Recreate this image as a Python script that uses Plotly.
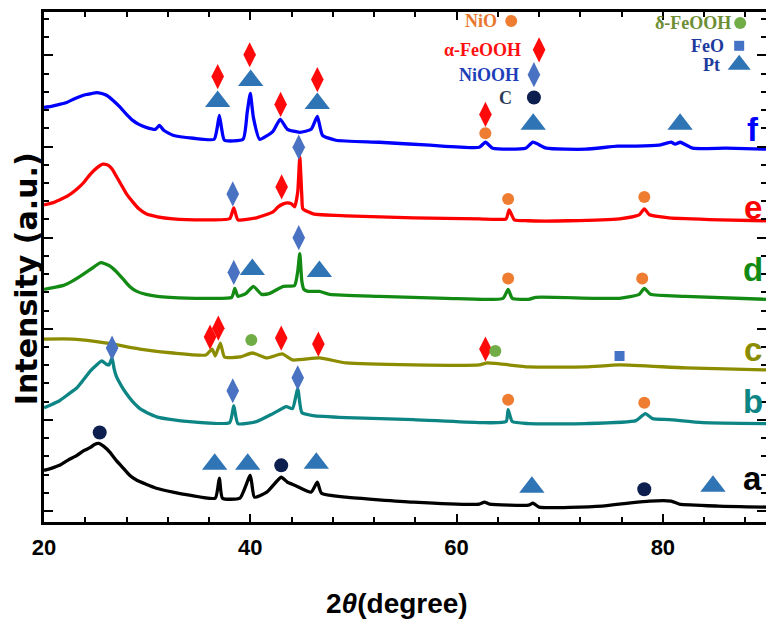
import plotly.graph_objects as go

# ---------------- data (2theta in degree, intensity in arbitrary units) -------------
f_x = [20.0, 20.7, 21.5, 22.2, 22.8, 23.5, 24.1, 24.6, 25.1, 25.6, 26.1, 26.7, 27.4, 28.0, 28.6,
       29.2, 29.9, 30.8, 31.2, 31.6, 32.5, 34.5, 36.5, 36.8, 37.0, 37.2, 37.5, 39.3, 39.7, 40.0,
       40.3, 40.9, 42.2, 42.9, 43.6, 44.8, 45.9, 46.5, 47.0, 48.3, 52.5, 57.4, 62.2, 62.8, 63.5,
       66.7, 67.4, 68.7, 72.5, 75.6, 77.4, 79.6, 80.8, 81.2, 81.7, 82.9, 86.1, 90.0]
f_y = [495, 496, 498, 500, 503, 506, 508, 509, 510, 509, 507, 502, 495, 488, 482,
       478, 475, 473, 477, 472, 467, 464, 463, 475, 487, 475, 462, 463, 490, 509,
       485, 463, 471, 483, 473, 470, 473, 486, 467, 462, 460, 457, 455, 460, 454,
       454, 460, 454, 453, 456, 456, 457, 460, 458, 460, 454, 454, 453]

e_x = [20.0, 20.8, 21.5, 22.3, 23.2, 23.9, 24.5, 25.1, 25.7, 26.2, 26.6, 27.0, 27.5, 28.0, 28.6,
       29.2, 29.9, 31.0, 32.5, 35.7, 38.0, 38.4, 38.8, 40.6, 42.2, 42.7, 43.2, 43.6, 44.0, 44.3,
       44.6, 44.8, 45.0, 45.1, 46.1, 49.3, 55.8, 62.2, 64.8, 65.1, 65.6, 66.9, 70.9, 75.8, 77.7,
       78.2, 78.7, 80.6, 85.5, 90.0]
e_y = [397, 399, 402, 406, 413, 420, 428, 434, 438, 437, 433, 426, 417, 408, 400,
       393, 388, 385, 383, 382, 383, 394, 382, 384, 390, 395, 398, 399, 398, 395,
       410, 445, 405, 393, 388, 386, 384, 383, 383, 392, 382, 381, 381, 383, 387,
       393, 387, 384, 382, 381]

d_x = [20.0, 21.0, 21.9, 22.7, 23.5, 24.5, 25.5, 26.3, 27.0, 27.7, 28.3, 29.0, 29.9, 31.0, 32.2,
       35.4, 38.2, 38.5, 38.8, 39.6, 40.3, 41.1, 41.9, 43.2, 44.3, 44.6, 44.8, 45.0, 45.2, 45.6,
       46.7, 47.7, 52.5, 59.0, 64.5, 65.0, 65.4, 67.0, 67.7, 75.8, 77.7, 78.2, 78.8, 82.2, 90.0]
d_y = [312, 314, 316, 320, 325, 332, 339, 336, 330, 322, 315, 310, 307, 305, 304,
       303, 304, 313, 305, 308, 315, 307, 308, 315, 316, 330, 348, 320, 312, 310,
       310, 307, 305, 303, 303, 312, 303, 302, 304, 303, 307, 313, 307, 305, 302]

c_x = [20.0, 22.8, 26.1, 29.3, 32.5, 35.7, 36.3, 36.6, 37.1, 37.5, 39.0, 40.2, 41.6, 43.1, 44.1,
       46.7, 49.3, 55.8, 62.2, 63.0, 67.0, 72.5, 75.8, 82.2, 90.0]
c_y = [262, 262, 258, 252, 248, 246, 252, 245, 258, 244, 244, 248, 243, 247, 241,
       243, 238, 236, 236, 238, 234, 234, 236, 233, 231]

b_x = [20.0, 20.7, 21.5, 22.3, 23.2, 23.9, 24.5, 25.1, 25.6, 26.0, 26.3, 26.6, 26.8, 27.0, 27.5,
       28.0, 28.6, 29.3, 30.2, 31.2, 34.1, 38.0, 38.4, 38.8, 40.6, 42.2, 43.5, 44.1, 44.6, 45.0,
       46.1, 49.3, 55.8, 62.2, 64.8, 65.0, 65.4, 67.0, 72.5, 77.4, 78.3, 79.0, 80.6, 83.9, 90.0]
b_y = [193, 196, 200, 206, 213, 222, 230, 236, 240, 237, 236, 243, 232, 225, 215,
       207, 199, 192, 187, 183, 179, 178, 195, 177, 179, 187, 194, 192, 212, 188,
       185, 183, 181, 178, 179, 191, 179, 177, 177, 180, 187, 182, 181, 178, 177]

a_x = [20.0, 20.7, 21.5, 22.3, 23.2, 23.9, 24.5, 24.9, 25.3, 25.8, 26.4, 27.0, 27.7, 28.3, 29.0,
       29.9, 30.9, 32.5, 34.1, 36.6, 37.0, 37.3, 39.0, 40.0, 40.4, 41.6, 43.0, 43.6, 44.3, 45.9,
       46.5, 46.9, 49.3, 55.8, 62.2, 62.7, 63.2, 67.0, 67.4, 68.0, 74.1, 76.7, 78.7, 80.8, 81.6,
       85.4, 90.0]
a_y = [130, 132, 135, 140, 145, 150, 153, 156, 157, 154, 148, 140, 132, 125, 120,
       116, 112, 108, 105, 102, 122, 102, 102, 125, 103, 108, 123, 118, 115, 108,
       118, 107, 103, 98, 96, 98, 96, 95, 97, 93, 94, 97, 99, 99, 96,
       94, 93]

# phase markers (peak position, marker height)
feooh_a_x = [36.84, 39.94, 42.94, 46.5, 62.8, 43.04, 36.1, 36.9, 43.0, 46.6, 62.8]
feooh_a_y = [526, 548, 498, 523, 488, 415, 264, 273, 263, 257, 252]
niooh_x = [38.3, 44.7, 38.4, 44.7, 26.6, 38.3, 44.6]
niooh_y = [408, 455, 329, 364, 253, 210, 223]
pt_x = [36.84, 40.04, 46.5, 67.43, 81.67, 40.2, 46.7, 36.55, 39.75, 46.4, 67.3, 84.86]
pt_y = [501, 522, 499, 478, 478, 332, 330, 136, 136, 137, 113, 114]
nio_x = [62.79, 65.0, 78.2, 65.0, 78.0, 65.0, 78.2]
nio_y = [469, 403, 405, 323, 323, 201, 198]
feooh_d_x = [40.1, 63.76]
feooh_d_y = [261, 250]
feo_x = [75.8]
feo_y = [245]
c_phase_x = [25.4, 43.0, 78.2]
c_phase_y = [168, 135, 111]

# key (legend) entries
key_labels = ["NiO", "α-FeOOH", "NiOOH", "C", "δ-FeOOH", "FeO", "Pt"]
key_text_x = [64.1, 66.4, 66.2, 65.6, 86.8, 86.1, 85.7]
key_mark_x = [65.3, 68.0, 67.5, 67.5, 87.5, 87.4, 87.4]
key_y = [582, 553, 528, 505, 580, 557, 538]

curve_labels = ["a", "b", "c", "d", "e", "f"]
label_y = [122, 199, 252, 332, 394, 473]

# ---------------- styling ----------------
curve_colors = {"a": "#000000", "b": "#0e8585", "c": "#8c8c00", "d": "#138a13",
                "e": "#ff0000", "f": "#0000ff"}
RED = "#ff0a0a"
BLUE_D = "#4a72c2"
TRI = "#2f74b5"
ORANGE = "#ee7d32"
GREEN_C = "#70ad47"
NAVY = "#0d1f4e"
SQ = "#4472c4"

key_marker = [("circle", ORANGE, 12), ("diamond-tall", RED, 18), ("diamond-tall", BLUE_D, 18),
              ("circle", NAVY, 14), ("circle", GREEN_C, 12), ("square", SQ, 10),
              ("triangle-up", TRI, 20)]
key_text_color = ["#e8772e", "#ff1010", "#1d3fb8", "#2b3a58", "#6d8e34", "#1d3a9c", "#1d3a9c"]

SANS = "Liberation Sans, Arial, sans-serif"

fig = go.Figure()

series = [("a", a_x, a_y), ("b", b_x, b_y), ("c", c_x, c_y), ("d", d_x, d_y),
          ("e", e_x, e_y), ("f", f_x, f_y)]
for name, xs, ys in series:
    fig.add_trace(go.Scatter(x=xs, y=ys, mode="lines", name=name,
                             line=dict(color=curve_colors[name], width=3.3,
                                       shape="spline", smoothing=0.5),
                             showlegend=False, hoverinfo="skip"))

def add_markers(xs, ys, symbol, color, size):
    fig.add_trace(go.Scatter(x=xs, y=ys, mode="markers", showlegend=False,
                             marker=dict(symbol=symbol, color=color, size=size,
                                         line=dict(width=0)),
                             hoverinfo="skip", cliponaxis=False))

add_markers(pt_x, pt_y, "triangle-up", TRI, 22)
add_markers(feooh_a_x, feooh_a_y, "diamond-tall", RED, 18)
add_markers(niooh_x, niooh_y, "diamond-tall", BLUE_D, 18)
add_markers(nio_x, nio_y, "circle", ORANGE, 12)
add_markers(feooh_d_x, feooh_d_y, "circle", GREEN_C, 12)
add_markers(feo_x, feo_y, "square", SQ, 10)
add_markers(c_phase_x, c_phase_y, "circle", NAVY, 14)

# key markers
for (sym, col, sz), mx, my in zip(key_marker, key_mark_x, key_y):
    add_markers([mx], [my], sym, col, sz)

annotations = []
for lab, tx, ty, col in zip(key_labels, key_text_x, key_y, key_text_color):
    annotations.append(dict(x=tx, y=ty, xref="x", yref="y", text=lab, showarrow=False,
                            xanchor="right", yanchor="middle",
                            font=dict(family="Liberation Serif", size=18, color=col,
                                      weight="bold")))
for lab, ly in zip(curve_labels, label_y):
    annotations.append(dict(x=88.7, y=ly, xref="x", yref="y", text=lab, showarrow=False,
                            xanchor="center", yanchor="middle",
                            font=dict(family=SANS, size=33,
                                      color=curve_colors[lab], weight="bold")))
annotations.append(dict(x=-0.025, y=0.478, xref="paper", yref="paper",
                        text="Intensity (a.u.)", textangle=-90, showarrow=False,
                        xanchor="center", yanchor="middle",
                        font=dict(family="DejaVu Sans", size=30, color="black",
                                  weight="bold")))
annotations.append(dict(x=0.489, y=-0.160, xref="paper", yref="paper",
                        text="2<i>θ</i>(degree)", showarrow=False,
                        xanchor="center", yanchor="middle",
                        font=dict(family=SANS, size=28, color="black",
                                  weight="bold")))

# the page adds an 8px body margin, so the figure is sized to fill the rest of the window
fig.update_layout(
    width=766, height=619,
    margin=dict(l=36, r=8, t=1, b=105),
    paper_bgcolor="white", plot_bgcolor="white",
    annotations=annotations,
    showlegend=False,
)
fig.update_xaxes(range=[20, 90], tickvals=[20, 40, 60, 80], ticks="inside", ticklen=8,
                 tickwidth=2, tickcolor="black", showline=True, linewidth=3,
                 linecolor="black", mirror="ticks", showgrid=False, zeroline=False,
                 ticklabelstandoff=4,
                 tickfont=dict(family=SANS, size=22, color="black", weight="bold"),
                 minor=dict(dtick=4, tick0=20, ticks="inside", ticklen=5, tickwidth=1.5,
                            tickcolor="black", showgrid=False))
fig.update_yaxes(range=[78, 591], tick0=547.333, dtick=91.667, ticks="inside", ticklen=9,
                 tickwidth=2, tickcolor="black", showline=True, linewidth=3,
                 linecolor="black", mirror="ticks", showgrid=False, zeroline=False,
                 showticklabels=False,
                 minor=dict(dtick=18.333, tick0=584, ticks="inside", ticklen=5, tickwidth=1.5,
                            tickcolor="black", showgrid=False))

fig.write_html("out.html")
